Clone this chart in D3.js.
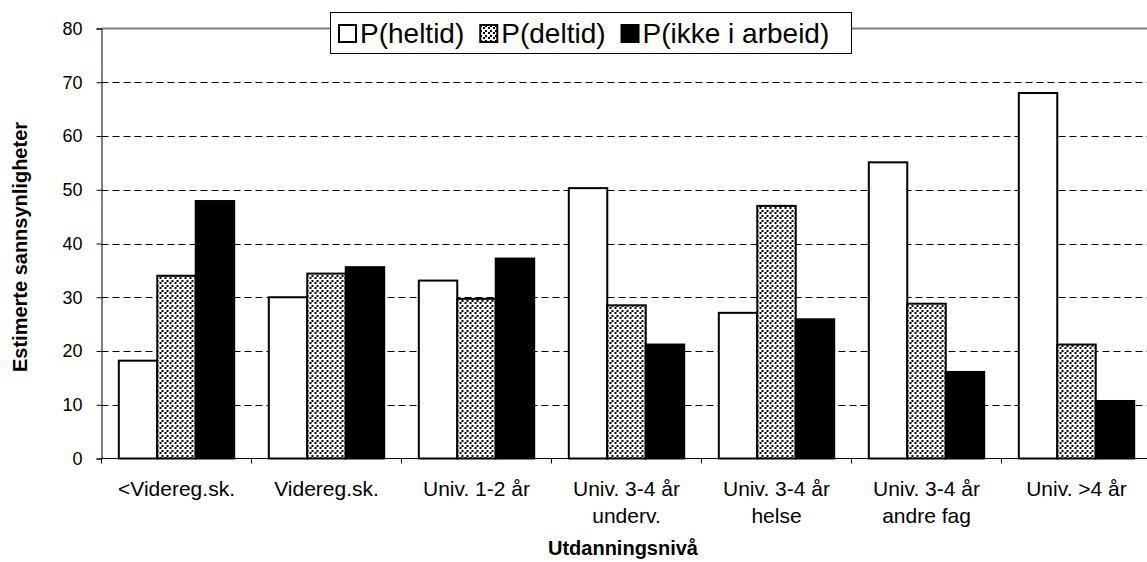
<!DOCTYPE html>
<html>
<head>
<meta charset="utf-8">
<script src="https://cdn.jsdelivr.net/npm/d3@7"></script>
<style>
  body { margin: 0; background: #fff; }
  svg { display: block; font-family: "Liberation Sans", Arial, sans-serif; }
</style>
</head>
<body>
<script>
// data
const categories = [
  ["<Videreg.sk."],
  ["Videreg.sk."],
  ["Univ. 1-2 år"],
  ["Univ. 3-4 år", "underv."],
  ["Univ. 3-4 år", "helse"],
  ["Univ. 3-4 år", "andre fag"],
  ["Univ. >4 år"]
];
const series = ["P(heltid)", "P(deltid)", "P(ikke i arbeid)"];
const heltid = [18.2, 30.0, 33.1, 50.3, 27.1, 55.1, 68.0];
const deltid = [34.0, 34.4, 29.7, 28.5, 47.0, 28.8, 21.2];
const ikkeIArbeid = [47.9, 35.6, 37.2, 21.2, 25.9, 16.1, 10.7];
const yTicks = [0, 10, 20, 30, 40, 50, 60, 70, 80];

const width = 1147, height = 562;
const plotLeft = 101.5, plotRight = 1151.5, plotTop = 28.5, plotBottom = 458.5;

const svg = d3.select("body").append("svg")
  .attr("width", width)
  .attr("height", height);

// dotted fill for the middle series
const pat = svg.append("defs").append("pattern")
  .attr("id", "dots")
  .attr("patternUnits", "userSpaceOnUse")
  .attr("width", 5).attr("height", 5);
pat.append("rect").attr("width", 5).attr("height", 5).attr("fill", "#fff");
pat.append("rect").attr("x", 0).attr("y", 0).attr("width", 2).attr("height", 2).attr("fill", "#000");
pat.append("rect").attr("x", 3).attr("y", 2).attr("width", 2).attr("height", 2).attr("fill", "#000");

const fills = ["#fff", "url(#dots)", "#000"];
const values = [heltid, deltid, ikkeIArbeid];

const x0 = d3.scaleBand()
  .domain(d3.range(categories.length))
  .range([plotLeft, plotRight])
  .padding(0);

const x1 = d3.scaleBand()
  .domain(d3.range(series.length))
  .range([0, x0.bandwidth()])
  .paddingInner(0)
  .paddingOuter(0.45);

const y = d3.scaleLinear()
  .domain([0, 80])
  .range([plotBottom, plotTop]);

// plot border (top edge visible in grey)
svg.append("line")
  .attr("x1", plotLeft).attr("x2", width)
  .attr("y1", y(80)).attr("y2", y(80))
  .attr("stroke", "#808080").attr("stroke-width", 2);

// dashed gridlines
svg.append("g")
  .selectAll("line")
  .data(yTicks.filter(d => d > 0 && d < 80))
  .enter().append("line")
  .attr("x1", plotLeft).attr("x2", width)
  .attr("y1", d => Math.round(y(d)) + 0.5)
  .attr("y2", d => Math.round(y(d)) + 0.5)
  .attr("stroke", "#000")
  .attr("stroke-dasharray", "7,4");

// bars
const groups = svg.append("g")
  .selectAll("g")
  .data(categories)
  .enter().append("g")
  .attr("transform", (d, i) => "translate(" + x0(i) + ",0)");

groups.selectAll("rect")
  .data((d, i) => values.map((v, s) => ({ s: s, v: v[i] })))
  .enter().append("rect")
  .attr("x", d => x1(d.s))
  .attr("y", d => y(d.v))
  .attr("width", x1.bandwidth())
  .attr("height", d => y(0) - y(d.v))
  .attr("fill", d => fills[d.s])
  .attr("stroke", "#000")
  .attr("stroke-width", 2);

// y axis
const yAxis = svg.append("g")
  .attr("transform", "translate(" + plotLeft + ",0)")
  .call(d3.axisLeft(y).tickValues(yTicks).tickSize(5).tickPadding(14));
yAxis.select(".domain").attr("stroke", "#000");
yAxis.selectAll("text")
  .style("font-size", "18px")
  .style("font-family", "Liberation Sans, Arial, sans-serif")
  .attr("fill", "#000");

// x axis line and ticks at category boundaries
svg.append("line")
  .attr("x1", plotLeft).attr("x2", width)
  .attr("y1", plotBottom).attr("y2", plotBottom)
  .attr("stroke", "#000");

svg.append("g")
  .selectAll("line")
  .data(d3.range(categories.length + 1))
  .enter().append("line")
  .attr("x1", i => i < categories.length ? x0(i) : plotRight)
  .attr("x2", i => i < categories.length ? x0(i) : plotRight)
  .attr("y1", plotBottom).attr("y2", plotBottom + 5)
  .attr("stroke", "#000");

// category labels
const labels = svg.append("g")
  .selectAll("text")
  .data(categories)
  .enter().append("text")
  .attr("x", (d, i) => x0(i) + x0.bandwidth() / 2)
  .attr("y", 496)
  .attr("text-anchor", "middle")
  .style("font-size", "21px");

labels.selectAll("tspan")
  .data(d => d)
  .enter().append("tspan")
  .attr("x", function () { return this.parentNode.getAttribute("x"); })
  .attr("dy", (d, i) => i === 0 ? 0 : 27)
  .text(d => d);

// axis titles
svg.append("text")
  .attr("x", 623)
  .attr("y", 555)
  .attr("text-anchor", "middle")
  .style("font-size", "20px")
  .style("font-weight", "bold")
  .text("Utdanningsnivå");

svg.append("text")
  .attr("transform", "translate(27,247) rotate(-90)")
  .attr("text-anchor", "middle")
  .style("font-size", "20px")
  .style("font-weight", "bold")
  .text("Estimerte sannsynligheter");

// legend
const legend = svg.append("g");
legend.append("rect")
  .attr("x", 330.5).attr("y", 12.5)
  .attr("width", 521).attr("height", 41)
  .attr("fill", "#fff")
  .attr("stroke", "#000");

let lx = 339;
series.forEach((name, s) => {
  legend.append("rect")
    .attr("x", lx).attr("y", 25)
    .attr("width", 17).attr("height", 17)
    .attr("fill", fills[s])
    .attr("stroke", "#000")
    .attr("stroke-width", 2);
  const t = legend.append("text")
    .attr("x", lx + 21)
    .attr("y", 43)
    .style("font-size", "28px")
    .text(name);
  lx += 21 + t.node().getComputedTextLength() + 16;
});
</script>
</body>
</html>
